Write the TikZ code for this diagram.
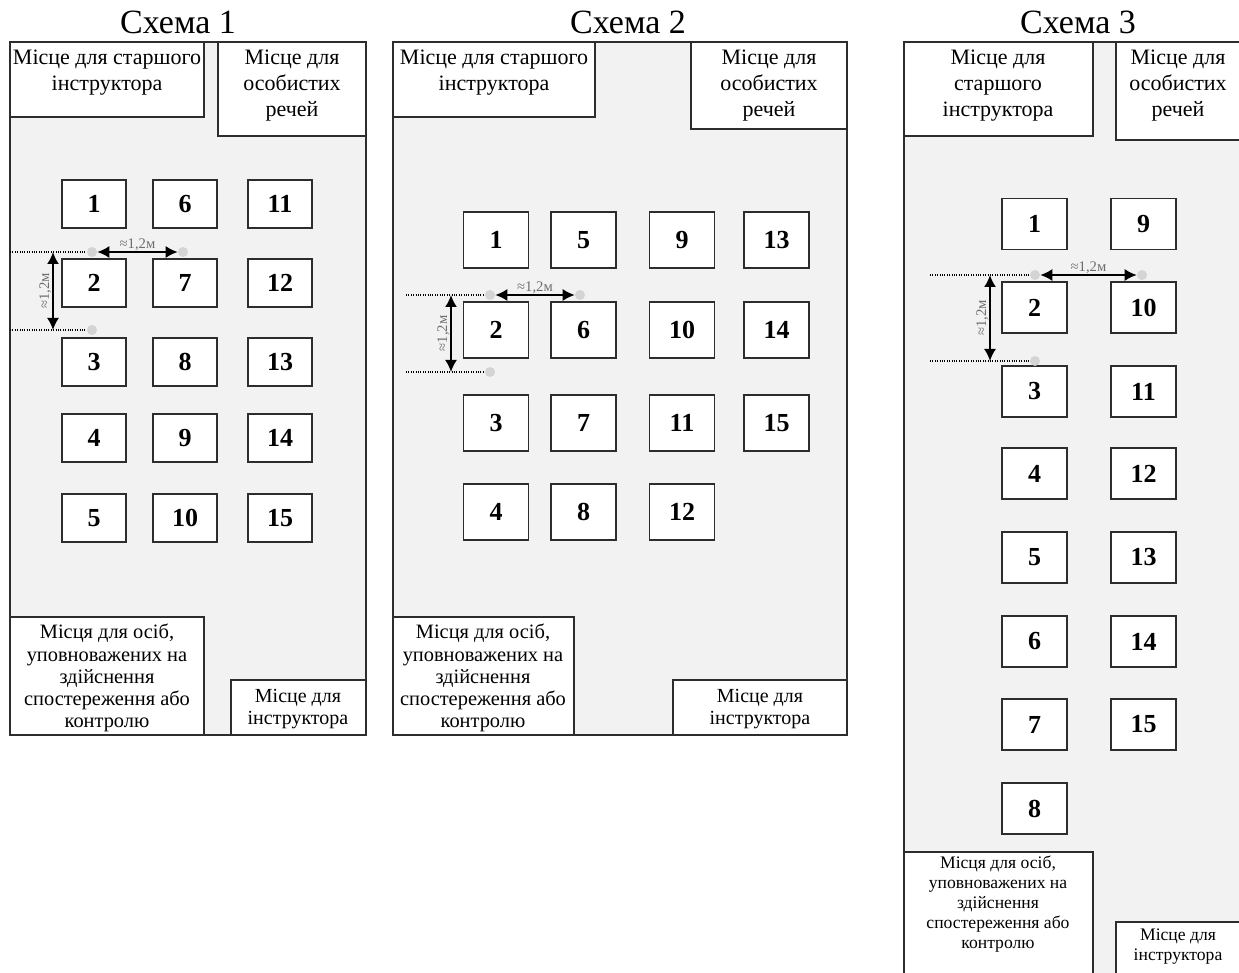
\documentclass[tikz,border=0pt]{standalone}
\usepackage{fontspec}
\setmainfont{Liberation Serif}
\usepackage{xcolor}
\usetikzlibrary{arrows.meta, positioning}
\definecolor{floor}{RGB}{242,242,242}
\definecolor{edge}{RGB}{45,45,45}
\definecolor{dotgray}{RGB}{212,212,212}
\definecolor{dimgray}{RGB}{110,110,110}
\begin{document}
\begin{tikzpicture}[x=0.75pt, y=-0.75pt,
    room/.style={draw=edge, line width=1.1pt, fill=floor},
    zone/.style={draw=edge, line width=1.1pt, fill=white},
    ztxt/.style={align=center, inner sep=0pt, anchor=north, font=\fontsize{16.5}{19.3}\selectfont},
    zsmall/.style={align=center, inner sep=0pt, anchor=north, font=\fontsize{15.3}{16.6}\selectfont},
    zinstr/.style={align=center, inner sep=0pt, anchor=north, font=\fontsize{15}{16.5}\selectfont},
    zsmaller/.style={align=center, inner sep=0pt, anchor=north, font=\fontsize{13.2}{15}\selectfont},
    title/.style={font=\fontsize{25.5}{25.5}\selectfont, inner sep=0pt},
    desk/.style={draw=edge, line width=1.1pt, fill=white, inner sep=0pt, font=\bfseries\fontsize{19.5}{19.5}\selectfont},
    deska/.style={desk, minimum width=48pt, minimum height=36pt},
    deskb/.style={desk, minimum width=48.75pt, minimum height=42pt},
    deskc/.style={desk, minimum width=48.75pt, minimum height=38.25pt},
    dot/.style={circle, fill=dotgray, minimum size=7.5pt, inner sep=0pt},
    dim/.style={{Latex[length=9pt,width=9pt]}-{Latex[length=9pt,width=9pt]}, line width=1.4pt},
    guide/.style={densely dotted, line width=0.8pt},
    dimtxt/.style={text=dimgray, font=\fontsize{11}{11}\selectfont, inner sep=0.5pt}]
  \useasboundingbox (0,0) rectangle (1239,973);
  \clip (0,0) rectangle (1239,973);

  \node[title] (t1) at (178,22) {Схема 1};
  \node[title] (t2) at (628,22) {Схема 2};
  \node[title] (t3) at (1078,22) {Схема 3};

  % scheme 1
  \draw[room] (10,42) rectangle (366,735);
  \draw[zone] (10,42) rectangle (204,117);
  \draw[zone] (218,42) rectangle (366,136);
  \draw[zone] (10,617) rectangle (204,735);
  \draw[zone] (231,680) rectangle (366,735);
  \node[ztxt] (s1senior) at (107,50) {Місце для старшого\\інструктора};
  \node[ztxt] (s1items) at (292,50) {Місце для\\особистих\\речей};
  \node[zsmall] (s1obs) at (107,624) {Місця для осіб,\\уповноважених на\\здійснення\\спостереження або\\контролю};
  \node[zinstr] (s1instr) at (298,689) {Місце для\\інструктора};
  \foreach \x [count=\c from 0] in {94,185,280}
    \foreach \y [count=\r] in {204,283,362,438,518} {
      \pgfmathtruncatemacro\n{5*\c+\r}
      \node[deska] (s1d\n) at (\x,\y) {\n};
    }
  \coordinate (s1h0) at (10,252);
  \coordinate (s1l0) at (10,330);
  \node[dot] (s1a) at (92,252) {};
  \node[dot] (s1b) at (183,252) {};
  \node[dot] (s1c) at (92,330) {};
  \coordinate (s1v1) at (53,252);
  \coordinate (s1v2) at (53,330);
  \draw[guide] (s1h0) -- (s1a);
  \draw[guide] (s1l0) -- (s1c);
  \draw[dim] (s1a) -- (s1b) node[dimtxt, midway, above] (s1hl) {≈1,2м};
  \draw[dim] (s1v1) -- (s1v2) node[dimtxt, midway, rotate=90, above] (s1vl) {≈1,2м};

  % scheme 2
  \draw[room] (393,42) rectangle (847,735);
  \draw[zone] (393,42) rectangle (595,117);
  \draw[zone] (691,42) rectangle (847,129);
  \draw[zone] (393,617) rectangle (574,735);
  \draw[zone] (673,680) rectangle (847,735);
  \node[ztxt] (s2senior) at (494,50) {Місце для старшого\\інструктора};
  \node[ztxt] (s2items) at (769,50) {Місце для\\особистих\\речей};
  \node[zsmall] (s2obs) at (483,624) {Місця для осіб,\\уповноважених на\\здійснення\\спостереження або\\контролю};
  \node[zinstr] (s2instr) at (760,689) {Місце для\\інструктора};
  \foreach \x [count=\c from 0] in {496,583.5,682,776.5}
    \foreach \y [count=\r] in {240,330,423,512} {
      \pgfmathtruncatemacro\n{4*\c+\r}
      \ifnum\n<16 \node[deskb] (s2d\n) at (\x,\y) {\n}; \fi
    }
  \coordinate (s2h0) at (406,295);
  \coordinate (s2l0) at (406,372);
  \node[dot] (s2a) at (490,295) {};
  \node[dot] (s2b) at (580,295) {};
  \node[dot] (s2c) at (490,372) {};
  \coordinate (s2v1) at (451,295);
  \coordinate (s2v2) at (451,372);
  \draw[guide] (s2h0) -- (s2a);
  \draw[guide] (s2l0) -- (s2c);
  \draw[dim] (s2a) -- (s2b) node[dimtxt, midway, above] (s2hl) {≈1,2м};
  \draw[dim] (s2v1) -- (s2v2) node[dimtxt, midway, rotate=90, above] (s2vl) {≈1,2м};

  % scheme 3
  \draw[room] (904,42) rectangle (1260,990);
  \draw[zone] (904,42) rectangle (1093,136);
  \draw[zone] (1116,42) rectangle (1260,140);
  \draw[zone] (904,852) rectangle (1093,990);
  \draw[zone] (1116,922) rectangle (1260,990);
  \node[ztxt] (s3senior) at (998,50) {Місце для\\старшого\\інструктора};
  \node[ztxt] (s3items) at (1178,50) {Місце для\\особистих\\речей};
  \node[zsmaller] (s3obs) at (998,856) {Місця для осіб,\\уповноважених на\\здійснення\\спостереження або\\контролю};
  \node[zsmaller] (s3instr) at (1178,929) {Місце для\\інструктора};
  \foreach \x [count=\c from 0] in {1034.5,1143.5}
    \foreach \y [count=\r] in {224,307.5,391.5,473.5,557.5,641.5,724.5,808.5} {
      \pgfmathtruncatemacro\n{8*\c+\r}
      \ifnum\n<16 \node[deskc] (s3d\n) at (\x,\y) {\n}; \fi
    }
  \coordinate (s3h0) at (930,275);
  \coordinate (s3l0) at (930,361);
  \node[dot] (s3a) at (1035,275) {};
  \node[dot] (s3b) at (1142,275) {};
  \node[dot] (s3c) at (1035,361) {};
  \coordinate (s3v1) at (990,275);
  \coordinate (s3v2) at (990,361);
  \draw[guide] (s3h0) -- (s3a);
  \draw[guide] (s3l0) -- (s3c);
  \draw[dim] (s3a) -- (s3b) node[dimtxt, midway, above] (s3hl) {≈1,2м};
  \draw[dim] (s3v1) -- (s3v2) node[dimtxt, midway, rotate=90, above] (s3vl) {≈1,2м};
\end{tikzpicture}
\end{document}
